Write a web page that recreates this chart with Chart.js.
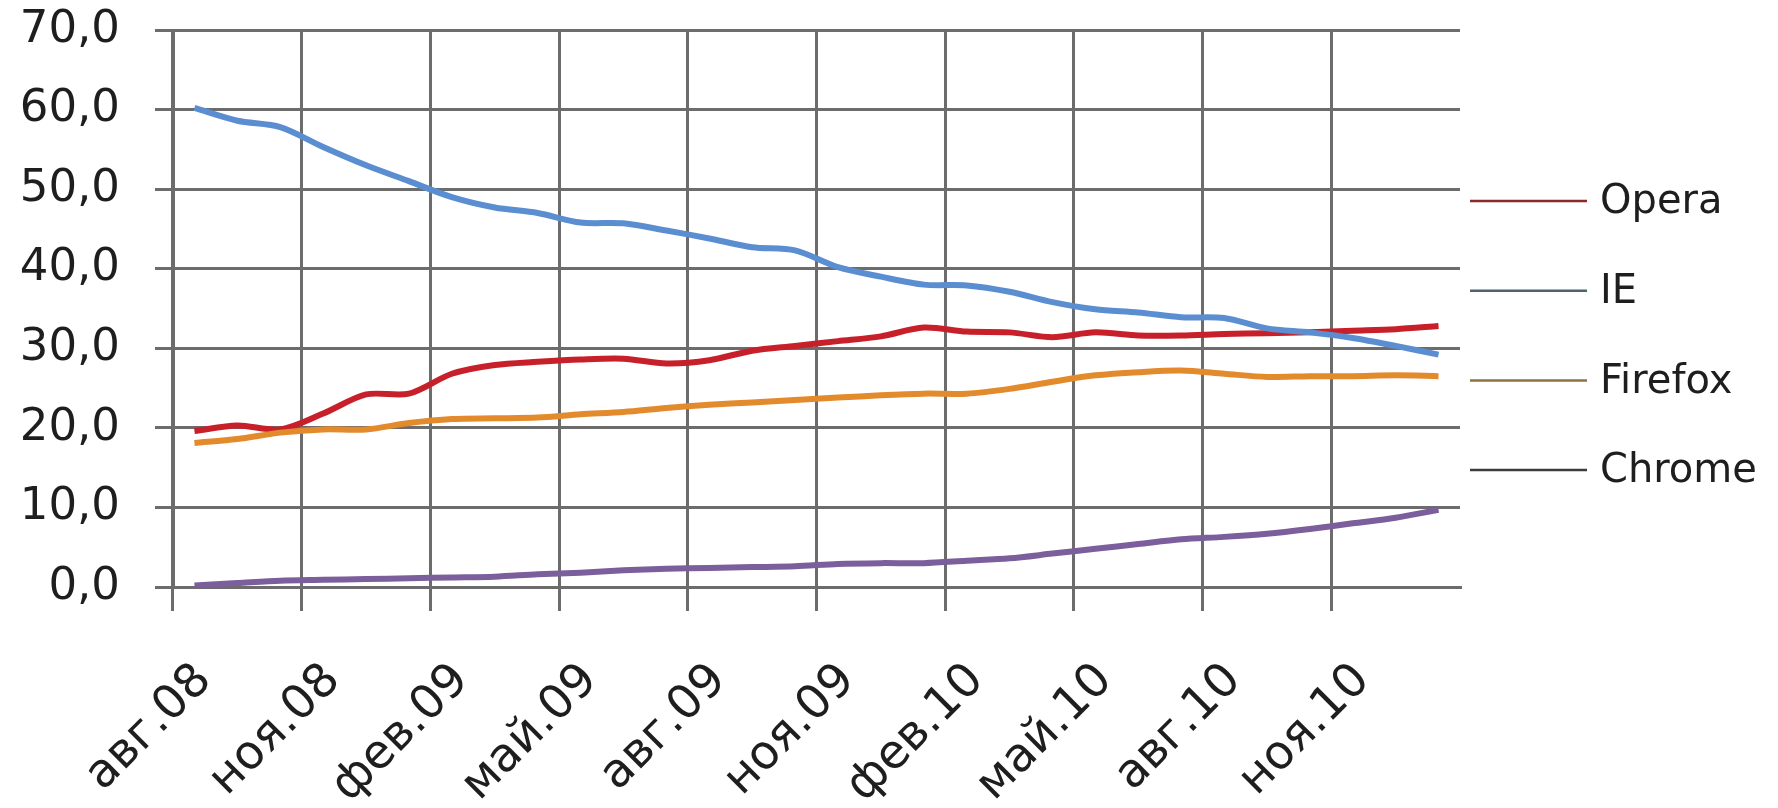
<!DOCTYPE html>
<html>
<head>
<meta charset="utf-8">
<script src="https://cdn.jsdelivr.net/npm/chart.js@4/dist/chart.umd.min.js"></script>
<style>
html, body { margin: 0; padding: 0; background: #fff; }
#wrap { width: 1778px; height: 808px; }
</style>
</head>
<body>
<div id="wrap"><canvas id="browser-chart"></canvas></div>
<script>
const months = ['авг.08', 'сен.08', 'окт.08', 'ноя.08', 'дек.08', 'янв.09', 'фев.09', 'мар.09', 'апр.09', 'май.09',
    'июн.09', 'июл.09', 'авг.09', 'сен.09', 'окт.09', 'ноя.09', 'дек.09', 'янв.10', 'фев.10', 'мар.10',
    'апр.10', 'май.10', 'июн.10', 'июл.10', 'авг.10', 'сен.10', 'окт.10', 'ноя.10', 'дек.10', 'янв.11'];

const opera = [19.6, 20.3, 19.8, 21.8, 24.2, 24.3, 26.8, 27.9, 28.3, 28.6, 28.7, 28.1, 28.5, 29.7, 30.3,
    30.9, 31.5, 32.6, 32.1, 32.0, 31.4, 32.0, 31.6, 31.6, 31.8, 31.9, 32.0, 32.2, 32.4, 32.8];
const ie = [60.2, 58.6, 57.8, 55.3, 53.0, 51.0, 49.0, 47.7, 47.0, 45.8, 45.7, 44.8, 43.8, 42.7, 42.3,
    40.2, 39.0, 38.0, 37.9, 37.1, 35.8, 34.9, 34.5, 33.9, 33.8, 32.5, 32.0, 31.3, 30.3, 29.2];
const firefox = [18.1, 18.6, 19.4, 19.8, 19.8, 20.6, 21.1, 21.2, 21.3, 21.7, 22.0, 22.5, 22.9, 23.2, 23.5,
    23.8, 24.1, 24.3, 24.3, 24.9, 25.8, 26.6, 27.0, 27.2, 26.8, 26.4, 26.5, 26.5, 26.6, 26.5];
const chrome = [0.2, 0.5, 0.8, 0.9, 1.0, 1.1, 1.2, 1.3, 1.6, 1.8, 2.1, 2.3, 2.4, 2.5, 2.6,
    2.9, 3.0, 3.0, 3.3, 3.6, 4.2, 4.8, 5.4, 6.0, 6.3, 6.7, 7.3, 8.0, 8.7, 9.7];

const seriesNames = ['Opera', 'IE', 'Firefox', 'Chrome'];
const seriesColors = ['#c8202a', '#5b8ed0', '#e38a2c', '#7b5f9c'];
const legendColors = ['#8a2a2a', '#4d6470', '#8a7540', '#3c3c3c'];

const gridColor = '#6c6c6c';
const font = 'DejaVu Sans';

// legend drawn at the right of the plot, as in the Excel picture
const sideLegend = {
    id: 'sideLegend',
    afterDraw(chart) {
        const {ctx, chartArea} = chart;
        ctx.save();
        ctx.font = '40px "' + font + '"';
        ctx.textBaseline = 'middle';
        ctx.fillStyle = '#1e1e1e';
        chart.data.datasets.forEach((ds, i) => {
            const y = 201 + i * 89.7;
            ctx.strokeStyle = legendColors[i];
            ctx.lineWidth = 2.5;
            ctx.beginPath();
            ctx.moveTo(chartArea.right + 10, y);
            ctx.lineTo(chartArea.right + 127, y);
            ctx.stroke();
            ctx.fillText(ds.label, chartArea.right + 140, y + 2);
        });
        ctx.restore();
    }
};

const ctx = document.getElementById('browser-chart').getContext('2d');

new Chart(ctx, {
    type: 'line',
    data: {
        labels: months,
        datasets: [opera, ie, firefox, chrome].map((vals, i) => ({
            label: seriesNames[i],
            data: vals,
            borderColor: seriesColors[i],
            backgroundColor: seriesColors[i],
            borderWidth: 6,
            pointRadius: 0,
            tension: 0.3,
            order: 4 - i
        }))
    },
    options: {
        responsive: true,
        maintainAspectRatio: false,
        animation: false,
        layout: {
            padding: {left: 15, right: 318, top: 30, bottom: 0}
        },
        plugins: {
            legend: {display: false},
            tooltip: {enabled: false}
        },
        scales: {
            x: {
                offset: true,
                afterFit: (s) => { s.height = 221; },
                grid: {
                    offset: true,
                    lineWidth: 3,
                    tickLength: 24,
                    color: (c) => c.index % 3 === 0 ? gridColor : 'rgba(0,0,0,0)',
                    tickColor: (c) => c.index % 3 === 0 ? gridColor : 'rgba(0,0,0,0)'
                },
                border: {color: gridColor, width: 3},
                ticks: {
                    autoSkip: false,
                    maxRotation: 45,
                    minRotation: 45,
                    padding: 42,
                    labelOffset: 10,
                    color: '#1e1e1e',
                    font: {family: font, size: 47},
                    callback: function (val, idx) {
                        return idx % 3 === 0 ? this.getLabelForValue(val) : '';
                    }
                }
            },
            y: {
                min: 0,
                max: 70,
                afterFit: (s) => {
                    s.width = 158;
                    s.paddingTop = 0;
                    s.paddingBottom = 0;
                },
                grid: {
                    lineWidth: 3,
                    tickLength: 18,
                    color: gridColor
                },
                border: {color: gridColor, width: 3},
                ticks: {
                    stepSize: 10,
                    padding: 35,
                    color: '#1e1e1e',
                    font: {family: font, size: 45},
                    callback: (v) => v.toFixed(1).replace('.', ',')
                }
            }
        }
    },
    plugins: [sideLegend]
});
</script>
</body>
</html>
